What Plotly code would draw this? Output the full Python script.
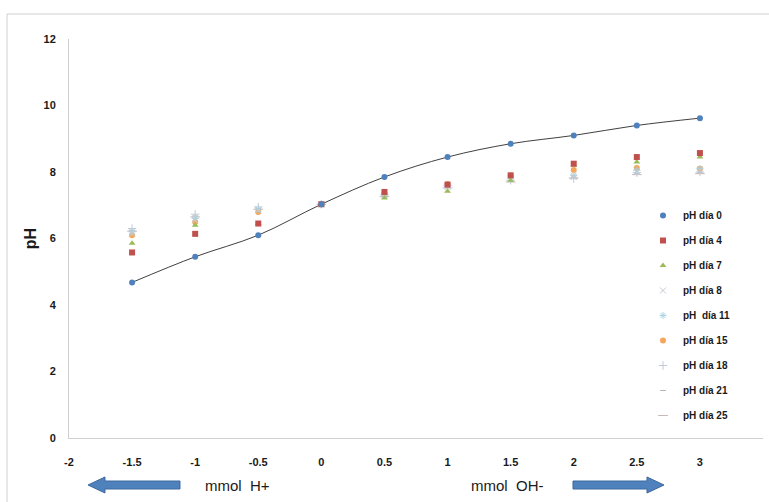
import plotly.graph_objects as go

x_mmol = [-1.5, -1, -0.5, 0, 0.5, 1, 1.5, 2, 2.5, 3]

ph_d0 = [4.68, 5.45, 6.10, 7.03, 7.85, 8.45, 8.85, 9.10, 9.40, 9.62]
ph_d4 = [5.58, 6.14, 6.45, 7.03, 7.40, 7.62, 7.90, 8.25, 8.45, 8.57]
ph_d7 = [5.86, 6.40, 6.45, 7.03, 7.22, 7.42, 7.75, 8.20, 8.30, 8.45]
ph_d8 = [6.15, 6.55, 6.85, 7.03, 7.30, 7.55, 7.80, 7.85, 8.00, 8.05]
ph_d11 = [6.20, 6.60, 6.88, 7.03, 7.30, 7.58, 7.80, 7.90, 8.05, 8.10]
ph_d15 = [6.10, 6.50, 6.80, 7.03, 7.35, 7.64, 7.88, 8.06, 8.12, 8.10]
ph_d18 = [6.30, 6.73, 6.95, 7.03, 7.32, 7.60, 7.75, 7.80, 7.98, 8.00]
ph_d21 = [6.25, 6.68, 6.90, 7.03, 7.28, 7.55, 7.72, 7.85, 7.95, 7.98]
ph_d25 = [6.22, 6.65, 6.88, 7.03, 7.26, 7.52, 7.70, 7.82, 7.92, 7.95]

x_ticks = [-2, -1.5, -1, -0.5, 0, 0.5, 1, 1.5, 2, 2.5, 3, 3.5]
y_ticks = [0, 2, 4, 6, 8, 10, 12]

series = [
    ("pH día 0", ph_d0, "circle", "#4F81BD", 6),
    ("pH día 4", ph_d4, "square", "#C0504D", 6),
    ("pH día 7", ph_d7, "triangle-up", "#9BBB59", 6),
    ("pH día 8", ph_d8, "x-thin", "#C8C8D0", 6),
    ("pH  día 11", ph_d11, "asterisk", "#A9D3E0", 6),
    ("pH día 15", ph_d15, "circle", "#F5A65B", 6),
    ("pH día 18", ph_d18, "cross-thin", "#C4C8D8", 6),
    ("pH día 21", ph_d21, "line-ew", "#B0B0B8", 4),
    ("pH día 25", ph_d25, "line-ew", "#C8B8B8", 7),
]

fig = go.Figure()

# smoothed line through day 0
fig.add_trace(go.Scatter(x=x_mmol, y=ph_d0, mode="lines",
                         line=dict(color="#404040", width=1, shape="spline", smoothing=1.0),
                         showlegend=False, hoverinfo="skip"))

traces = []
for i, (name, vals, sym, col, sz) in enumerate(series):
    thin = sym in ("x-thin", "cross-thin", "asterisk", "line-ew")
    marker = dict(symbol=sym, color=col, size=sz)
    if thin:
        marker["line"] = dict(color=col, width=1)
    traces.append(go.Scatter(x=x_mmol, y=vals, mode="markers", name=name,
                             marker=marker, legendgroup=f"g{i}", legendrank=i + 1))

# draw later series first so day 0 sits on top
for t in traces[::-1]:
    fig.add_trace(t)

W, H = 769, 502
L, R, T, B = 69, 6, 39, 64
pw, ph = W - L - R, H - T - B


def px(xp):
    return (xp - L) / pw


def py(yp):
    return (H - B - yp) / ph


shapes = []
# outer frame
shapes.append(dict(type="rect", xref="paper", yref="paper",
                   x0=px(7), x1=px(775), y0=py(14), y1=py(510),
                   line=dict(color="#D0D0D0", width=1), fillcolor="rgba(0,0,0,0)", layer="below"))


def arrow(x_tail, x_tip, yc):
    d = 1 if x_tip > x_tail else -1
    hl = 17
    xb = x_tip - d * hl
    pts = [(x_tail, yc - 4), (xb, yc - 4), (xb, yc - 8), (x_tip, yc), (xb, yc + 8), (xb, yc + 4), (x_tail, yc + 4)]
    path = "M " + " L ".join(f"{px(a):.5f},{py(b):.5f}" for a, b in pts) + " Z"
    return dict(type="path", xref="paper", yref="paper", path=path,
                fillcolor="#4F81BD", line=dict(color="#3D6A9E", width=1))


shapes.append(arrow(180, 88, 485))
shapes.append(arrow(573, 664, 485))

annotations = [
    dict(text="mmol  H+", x=px(237), y=py(485), xref="paper", yref="paper", showarrow=False,
         font=dict(family="Liberation Sans", size=15, color="#1a1a1a"), xanchor="center", yanchor="middle"),
    dict(text="mmol  OH-", x=px(507), y=py(485), xref="paper", yref="paper", showarrow=False,
         font=dict(family="Liberation Sans", size=15, color="#1a1a1a"), xanchor="center", yanchor="middle"),
]

fig.update_layout(
    width=W, height=H,
    margin=dict(l=L, r=R, t=T, b=B),
    paper_bgcolor="white", plot_bgcolor="white",
    font=dict(family="Liberation Sans", color="#1a1a1a"),
    showlegend=True,
    legend=dict(x=px(643), y=py(201), xanchor="left", yanchor="top",
                font=dict(size=10, family="Liberation Sans", color="#1a1a1a", weight="bold"),
                tracegroupgap=6, bgcolor="rgba(0,0,0,0)", itemwidth=30,
                traceorder="grouped"),
    xaxis=dict(range=[-2, 3.5], tickvals=x_ticks, ticktext=[f"{v:g}" for v in x_ticks],
               showgrid=False, zeroline=False, showline=True, linecolor="#D0D0D0", linewidth=1,
               ticks="", tickfont=dict(size=11, weight="bold"), ticklabelstandoff=14),
    yaxis=dict(range=[0, 12], tickvals=y_ticks, showgrid=False, zeroline=False,
               showline=True, linecolor="#D0D0D0", linewidth=1, ticks="",
               tickfont=dict(size=11, weight="bold"), ticklabelstandoff=10,
               title=dict(text="pH", font=dict(size=16, weight="bold"), standoff=2)),
    shapes=shapes, annotations=annotations,
)

fig.write_html("out.html")
